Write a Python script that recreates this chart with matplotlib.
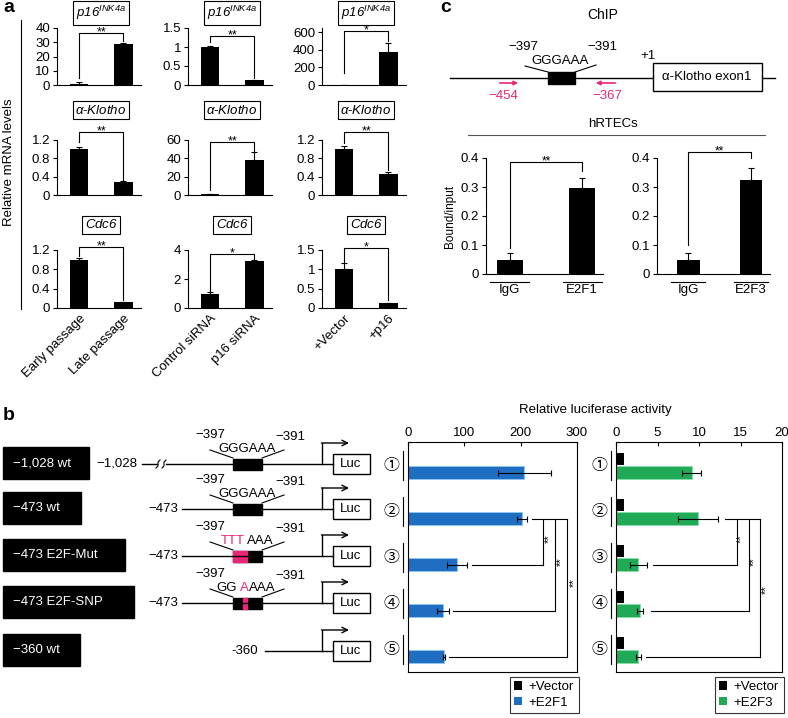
import matplotlib
matplotlib.use('Agg')
import matplotlib.pyplot as plt
from matplotlib.patches import Rectangle, Patch
from matplotlib.ticker import FormatStrFormatter

plt.rcParams['font.family'] = ['Liberation Sans', 'Noto Sans CJK JP', 'DejaVu Sans']
plt.rcParams['font.size'] = 9.5
plt.rcParams['mathtext.fontset'] = 'custom'
plt.rcParams['mathtext.rm'] = 'Liberation Sans:italic'
plt.rcParams['mathtext.it'] = 'Liberation Sans:italic'
plt.rcParams['axes.linewidth'] = 0.8

# ---------------- data: panel a (relative mRNA levels) ----------------
genes = [r'$p16^{INK4a}$', r'$\alpha$-$Klotho$', r'$Cdc6$']
conditions = [['Early passage', 'Late passage'],
              ['Control siRNA', 'p16 siRNA'],
              ['+Vector', '+p16']]
mrna_means = [[[1.0, 29.0], [1.0, 0.12], [1.0, 380.0]],
              [[1.0, 0.29], [0.8, 38.0], [1.0, 0.45]],
              [[1.0, 0.12], [1.0, 3.25], [1.0, 0.13]]]
mrna_err = [[[1.0, 0.5], [0.03, 0.01], [0.5, 100.0]],
            [[0.04, 0.01], [0.3, 9.0], [0.07, 0.05]],
            [[0.03, 0.01], [0.07, 0.06], [0.16, 0.01]]]
mrna_ymax = [[40, 1.5, 650], [1.2, 60, 1.2], [1.2, 4, 1.5]]
mrna_yticks = [[[0, 10, 20, 30, 40], [0, 0.5, 1, 1.5], [0, 200, 400, 600]],
               [[0, 0.4, 0.8, 1.2], [0, 20, 40, 60], [0, 0.4, 0.8, 1.2]],
               [[0, 0.4, 0.8, 1.2], [0, 2, 4], [0, 0.5, 1, 1.5]]]
mrna_sig = [['**', '**', '*'], ['**', '**', '**'], ['**', '*', '*']]
# (left leg start, right leg start, bracket top) in data units
mrna_brackets = [[(5, 31, 36.5), (1.13, 0.18, 1.3), (138, 500, 615)],
                 [(1.16, 0.33, 1.37), (5.5, 46, 58), (1.14, 0.55, 1.37)],
                 [(1.08, 0.17, 1.26), (1.2, 3.4, 3.72), (1.2, 0.2, 1.55)]]

# ---------------- data: panel c (ChIP) ----------------
chip_groups = [['IgG', 'E2F1'], ['IgG', 'E2F3']]
chip_means = [[0.05, 0.297], [0.05, 0.325]]
chip_err = [[0.022, 0.033], [0.022, 0.04]]
chip_brackets = [(0.09, 0.355, 0.386), (0.10, 0.40, 0.42)]

# ---------------- data: panel b (luciferase) ----------------
construct_ids = ['①', '②', '③', '④', '⑤']
construct_names = ['−1,028 wt', '−473 wt', '−473 E2F-Mut', '−473 E2F-SNP', '−360 wt']
luc_vector_1 = [1.5, 1.5, 1.5, 1.5, 1.5]
luc_e2f1 = [206, 202, 87, 62, 64]
luc_e2f1_err = [47, 9, 17, 11, 2]
luc_vector_3 = [1.0, 1.0, 1.0, 1.0, 1.0]
luc_e2f3 = [9.1, 9.9, 2.7, 2.9, 2.7]
luc_e2f3_err = [1.1, 2.4, 1.0, 0.4, 0.35]

BLUE = '#1f6ec2'
GREEN = '#20aa58'
PINK = '#e8267a'

W, H = 788, 718


def fig_box(left, top, right, bottom):
    return [left / W, 1 - bottom / H, (right - left) / W, (bottom - top) / H]


def stars(ax, x, y, label, size=9):
    # asterisks sit high in the font, so pull them down onto the line
    ax.annotate(label, (x, y), xytext=(0, -4), textcoords='offset points',
                ha='center', va='bottom', fontsize=size, annotation_clip=False)


fig = plt.figure(figsize=(W / 100, H / 100), dpi=100)

# overlay for schematics and labels (pixel coordinates)
ov = fig.add_axes([0, 0, 1, 1])
ov.set_xlim(0, W)
ov.set_ylim(H, 0)
ov.axis('off')

# ================= panel a =================
ov.text(3, 8, 'a', fontsize=14, fontweight='bold', va='center')
ov.plot([21, 21], [20, 309], color='black', lw=0.8)
ov.text(9, 162, 'Relative mRNA levels', rotation=90, ha='center', va='center', fontsize=9.5)

col_left = [57, 188, 322]
row_top = [28, 140, 250]
row_bottom = [85, 195, 308]
title_y = [13, 110, 225]

for r in range(3):
    for c in range(3):
        ax = fig.add_axes(fig_box(col_left[c], row_top[r], col_left[c] + 84, row_bottom[r]))
        ax.bar([0, 1], mrna_means[r][c], width=0.42, color='black',
               yerr=[[0, 0], mrna_err[r][c]], capsize=2.5,
               error_kw=dict(elinewidth=0.8, capthick=0.8))
        ax.set_xlim(-0.5, 1.4)
        ax.set_ylim(0, mrna_ymax[r][c])
        ax.set_yticks(mrna_yticks[r][c])
        ax.yaxis.set_major_formatter(FormatStrFormatter('%g'))
        ax.spines['top'].set_visible(False)
        ax.spines['right'].set_visible(False)
        ax.tick_params(axis='y', length=3, width=0.8, pad=2, labelsize=9.5)
        ax.tick_params(axis='x', length=0, pad=3, labelsize=9.5)
        if r == 2:
            ax.set_xticks([0, 1])
            ax.set_xticklabels(conditions[c], rotation=45, ha='right', rotation_mode='anchor')
        else:
            ax.set_xticks([])
        y0, y1, top = mrna_brackets[r][c]
        ax.plot([0, 0, 1, 1], [y0, top, top, y1], color='black', lw=0.8, clip_on=False)
        stars(ax, 0.5, top, mrna_sig[r][c], 9)
        ov.text(col_left[c] + 44, title_y[r], genes[r], ha='center', va='center', fontsize=9.5,
                bbox=dict(boxstyle='square,pad=0.22', fc='white', ec='black', lw=0.8))

# ================= panel c =================
ov.text(440, 8, 'c', fontsize=14, fontweight='bold', va='center')
ov.text(603, 15, 'ChIP', ha='center', va='center', fontsize=10)
ov.plot([450, 653], [78, 78], color='black', lw=1)
ov.plot([762, 775], [78, 78], color='black', lw=1)
ov.add_patch(Rectangle((548, 72), 27, 12, fc='black', ec='black'))
ov.plot([525, 548], [66, 72], color='black', lw=0.8)
ov.plot([575, 596], [72, 65], color='black', lw=0.8)
ov.text(523, 47, '−397', ha='center', va='center')
ov.text(602, 47, '−391', ha='center', va='center')
ov.text(560, 61, 'GGGAAA', ha='center', va='center')
ov.text(648, 56, '+1', ha='center', va='center')
ov.add_patch(Rectangle((653, 63), 109, 28, fc='white', ec='black', lw=1))
ov.text(707, 77, 'α-Klotho exon1', ha='center', va='center')
ov.annotate('', xy=(521, 83), xytext=(497, 83),
            arrowprops=dict(arrowstyle='-|>', color=PINK, lw=1.2, mutation_scale=6))
ov.annotate('', xy=(593, 83), xytext=(618, 83),
            arrowprops=dict(arrowstyle='-|>', color=PINK, lw=1.2, mutation_scale=6))
ov.text(503, 96, '−454', ha='center', va='center', color=PINK)
ov.text(607, 96, '−367', ha='center', va='center', color=PINK)
ov.text(613, 124, 'hRTECs', ha='center', va='center')
ov.plot([468, 765], [135, 135], color='#555555', lw=0.8)

chip_pos = [(486, 158, 603, 274), (657, 158, 770, 274)]
chip_xlim = [(-0.33, 1.29), (-0.5, 1.3)]
for i in range(2):
    ax = fig.add_axes(fig_box(*chip_pos[i]))
    ax.bar([0, 1], chip_means[i], width=0.36, color='black',
           yerr=[[0, 0], chip_err[i]], capsize=2.5,
           error_kw=dict(elinewidth=0.8, capthick=0.8))
    ax.set_xlim(*chip_xlim[i])
    ax.set_ylim(0, 0.4)
    ax.set_yticks([0, 0.1, 0.2, 0.3, 0.4])
    ax.yaxis.set_major_formatter(FormatStrFormatter('%g'))
    ax.spines['top'].set_visible(False)
    ax.spines['right'].set_visible(False)
    ax.tick_params(axis='y', length=3, width=0.8, pad=2, labelsize=9.5)
    ax.set_xticks([0, 1])
    ax.set_xticklabels(chip_groups[i])
    ax.tick_params(axis='x', length=0, pad=7, labelsize=9.5)
    for xc in [0, 1]:
        ax.plot([xc - 0.27, xc + 0.27], [-0.065, -0.065], color='black', lw=0.8,
                transform=ax.get_xaxis_transform(), clip_on=False)
    y0, y1, top = chip_brackets[i]
    ax.plot([0, 0, 1, 1], [y0, top, top, y1], color='black', lw=0.8, clip_on=False)
    stars(ax, 0.5, top, '**', 8.5)
    if i == 0:
        ax.set_ylabel('Bound/input', fontsize=8.5, labelpad=3)

# ================= panel b =================
ov.text(3, 415, 'b', fontsize=14, fontweight='bold', va='center')
row_y = [464, 509, 556, 603, 651]
label_right = [89, 81, 125, 134, 80]
for k in range(5):
    y = row_y[k]
    ov.add_patch(Rectangle((3, y - 17), label_right[k] - 3, 32, fc='black', ec='black'))
    ov.text(13, y - 1, construct_names[k], color='white', ha='left', va='center', fontsize=9.5)
    # promoter line
    if k == 0:
        ov.text(137, y, '−1,028', ha='right', va='center')
        ov.plot([142, 157], [y, y], color='black', lw=1)
        ov.plot([156, 158, 158, 160], [y + 4, y + 2, y - 2, y - 4], color='black', lw=0.8)
        ov.plot([162, 164, 164, 166], [y + 4, y + 2, y - 2, y - 4], color='black', lw=0.8)
        ov.plot([166, 333], [y, y], color='black', lw=1)
    elif k < 4:
        ov.text(178, y, '−473', ha='right', va='center')
        ov.plot([182, 333], [y, y], color='black', lw=1)
    else:
        ov.text(258, y, '-360', ha='right', va='center')
        ov.plot([265, 333], [y, y], color='black', lw=1)
    # TSS arrow and Luc box
    ov.plot([322, 322], [y, y - 21], color='black', lw=1)
    ov.annotate('', xy=(349, y - 21), xytext=(321.5, y - 21),
                arrowprops=dict(arrowstyle='->', color='black', lw=1, mutation_scale=10,
                                shrinkA=0, shrinkB=0))
    ov.add_patch(Rectangle((333, y - 10), 37, 20, fc='white', ec='black', lw=1))
    ov.text(351, y, 'Luc', ha='center', va='center')
    # E2F site
    if k < 4:
        ov.text(210, y - 29, '−397', ha='center', va='center')
        ov.text(290, y - 27, '−391', ha='center', va='center')
        ov.plot([210, 233], [y - 14, y - 6], color='black', lw=0.8)
        ov.plot([262, 284], [y - 6, y - 14], color='black', lw=0.8)
        ov.add_patch(Rectangle((233, y - 5.5), 29, 11, fc='black', ec='black'))
        if k < 2:
            ov.text(247, y - 15, 'GGGAAA', ha='center', va='center')
        elif k == 2:
            ov.add_patch(Rectangle((233, y - 5.5), 14, 11, fc=PINK, ec=PINK))
            ov.text(233, y - 15, 'TTT', ha='center', va='center', color=PINK)
            ov.text(260, y - 15, 'AAA', ha='center', va='center')
        else:
            ov.add_patch(Rectangle((243, y - 5.5), 4, 11, fc=PINK, ec=PINK))
            ov.text(227, y - 15, 'GG', ha='center', va='center')
            ov.text(244, y - 15, 'A', ha='center', va='center', color=PINK)
            ov.text(262, y - 15, 'AAA', ha='center', va='center')

ov.text(595, 410, 'Relative luciferase activity', ha='center', va='center', fontsize=9.5)

luc_sets = [
    (luc_vector_1, luc_e2f1, luc_e2f1_err, BLUE, '#8cc8f2', '+E2F1', 300, [0, 100, 200, 300],
     (408, 442, 577, 672),
     [(1, 220, 282), (2, 113, 240), (3, 80, 261), (4, 73, 282)],
     [(250, 1.57), (271, 2.09), (294, 2.54)]),
    (luc_vector_3, luc_e2f3, luc_e2f3_err, GREEN, '#8cdca8', '+E2F3', 20, [0, 5, 10, 15, 20],
     (616, 442, 782, 672),
     [(1, 13.1, 17.4), (2, 4.4, 14.6), (3, 4.25, 16.0), (4, 3.65, 17.4)],
     [(15.1, 1.57), (16.55, 2.09), (18.1, 2.7)]),
]
rows = list(range(5))
for vec, vals, errs, color, edge, lab, xmax, xt, pos, hlines, sig_pos in luc_sets:
    ax = fig.add_axes(fig_box(*pos))
    ax.barh([r - 0.145 for r in rows], vec, height=0.27, color='black')
    ax.barh([r + 0.145 for r in rows], vals, height=0.27, color=color, edgecolor=edge, lw=0.6,
            xerr=errs, capsize=2.5, error_kw=dict(elinewidth=0.8, capthick=0.8, ecolor='black'))
    ax.set_xlim(0, xmax)
    ax.set_ylim(4.48, -0.52)
    ax.set_xticks(xt)
    ax.xaxis.tick_top()
    ax.tick_params(axis='x', direction='in', length=3, width=0.8, pad=2, labelsize=9.5)
    ax.set_yticks([])
    # significance lines
    yy = [h[0] + 0.145 for h in hlines]
    ax.plot([hlines[0][1], hlines[0][2]], [yy[0], yy[0]], color='black', lw=0.8)
    for j in range(1, 4):
        xv = hlines[j][2]
        ax.plot([hlines[j][1], xv], [yy[j], yy[j]], color='black', lw=0.8)
        ax.plot([xv, xv], [yy[0], yy[j]], color='black', lw=0.8)
    for sx, sy in sig_pos:
        ax.text(sx, sy, '**', rotation=90, ha='center', va='center', fontsize=8)
    # row markers on the left
    for r in rows:
        ax.text(-0.1, r, construct_ids[r], transform=ax.get_yaxis_transform(),
                ha='center', va='center', fontsize=11.5, clip_on=False)
        ax.plot([-0.032, -0.032], [r - 0.32, r + 0.3], color='black', lw=0.8,
                transform=ax.get_yaxis_transform(), clip_on=False)
    leg = ax.legend([Patch(facecolor='black'), Patch(facecolor=color)], ['+Vector', lab],
                    loc='upper right', bbox_to_anchor=(1.01, -0.02), frameon=True, fancybox=False,
                    edgecolor='black', handlelength=0.6, handleheight=0.6, handletextpad=0.5,
                    borderpad=0.35, labelspacing=0.25, fontsize=9.5, borderaxespad=0)
    leg.get_frame().set_linewidth(0.8)

fig.savefig('out.png', dpi=100)
